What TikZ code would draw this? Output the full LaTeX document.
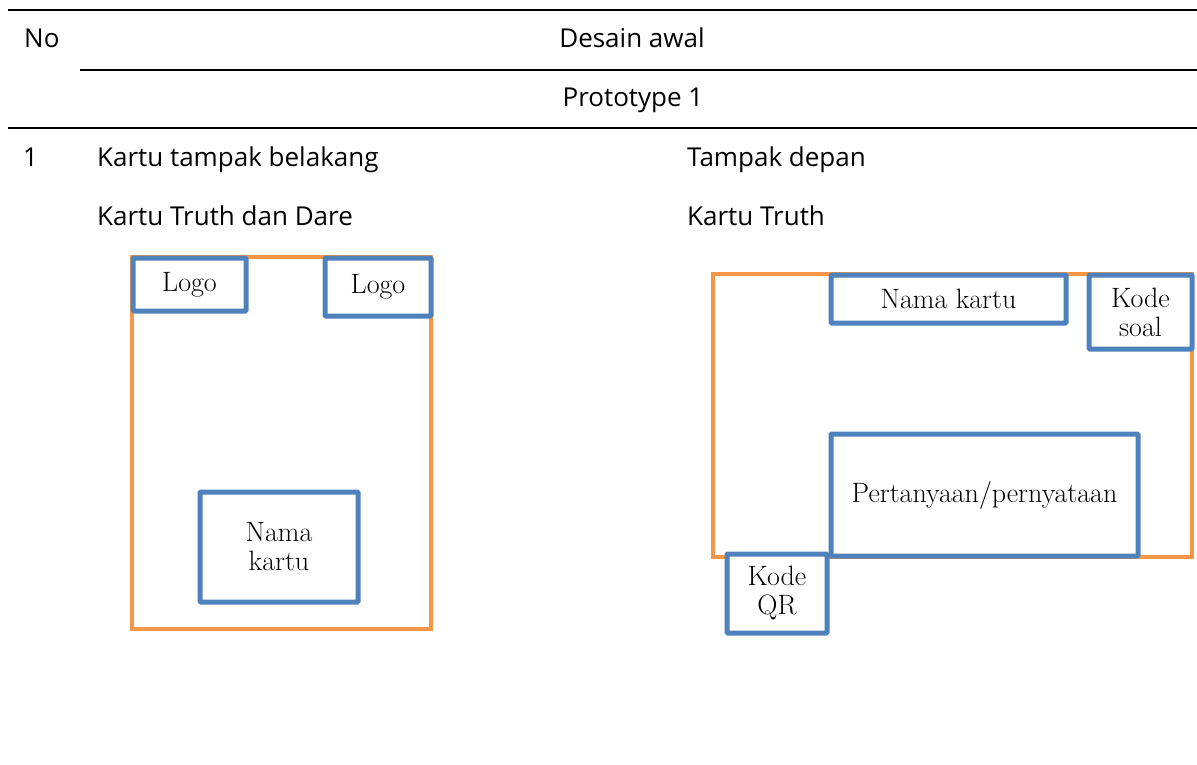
\documentclass[tikz,border=0pt]{standalone}
\usepackage{fontspec}
\newfontfamily\headfont{Open Sans}
\usepackage{tikz}
\usetikzlibrary{positioning}
\definecolor{kartuorange}{HTML}{F79646}
\definecolor{kotakblue}{HTML}{4F81BD}
\tikzset{
 judul/.style={font=\headfont\fontsize{26}{31}\selectfont,inner sep=0pt},
 kartu/.style={draw=kartuorange,line width=4pt,anchor=north west},
 kotak/.style={draw=kotakblue,line width=5pt,fill=white,anchor=north west,rounded corners=1pt,align=center,font=\fontsize{28}{29}\selectfont},
 garis/.style={line width=2.2pt}
}

\begin{document}
\begin{tikzpicture}[x=1pt,y=-1pt]
 \useasboundingbox (0,0) rectangle (1197,765);
 % header of the table
 \draw[garis] (8,10) -- (1197,10);
 \draw[garis] (80,70) -- (1197,70);
 \draw[garis] (8,128) -- (1197,128);
 \node[judul,anchor=base west] (no) at (24,48) {No};
 \node[judul,anchor=base] (desain) at (632,48) {Desain awal};
 \node[judul,anchor=base] (proto) at (633,107) {Prototype 1};
 \node[judul,anchor=base west] (nomor) at (23,167) {1};
 \node[judul,anchor=base west] (belakangtxt) at (97,167) {Kartu tampak belakang};
 \node[judul,anchor=base west] (depantxt) at (687,167) {Tampak depan};
 \node[judul,anchor=base west] (tdtxt) at (97,225) {Kartu Truth dan Dare};
 \node[judul,anchor=base west] (truthtxt) at (687,225) {Kartu Truth};

 % back of the card
 \node[kartu,minimum width=299pt,minimum height=372pt] (belakang) at (130,255) {};
 \node[kotak,minimum width=113pt,minimum height=53pt] (logoa) at (130.5,255.5) {Logo};
 \node[kotak,minimum width=106pt,minimum height=58pt] (logob) at (322.5,255.5) {Logo};
 \node[kotak,minimum width=158pt,minimum height=110pt] (namaa) at (197.5,489.5) {Nama\\kartu};

 % front of the card
 \node[kartu,minimum width=479pt,minimum height=283pt] (depan) at (711,272) {};
 \node[kotak,minimum width=235pt,minimum height=48pt] (namab) at (828.5,272.5) {Nama kartu};
 \node[kotak,minimum width=103pt,minimum height=74pt] (soal) at (1086.5,272.5) {Kode\\soal};
 \node[kotak,minimum width=307pt,minimum height=122pt] (tanya) at (828.5,431.5) {Pertanyaan/pernyataan};
 \node[kotak,minimum width=100pt,minimum height=79pt] (qr) at (724.5,551.5) {Kode\\QR};
\end{tikzpicture}
\end{document}
